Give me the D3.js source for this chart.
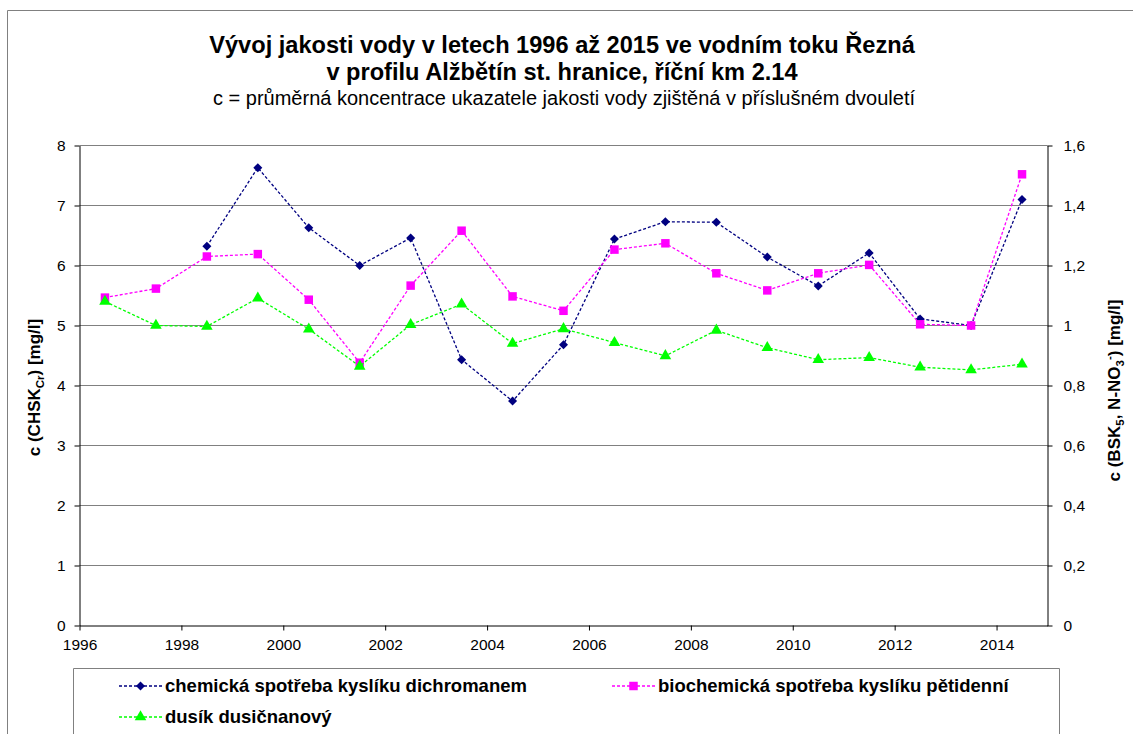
<!DOCTYPE html>
<meta charset='utf-8'>
<title>Vývoj jakosti vody – Řezná</title>
<style>
html, body {
  margin: 0;
  padding: 0;
  background: #fff;
}
svg text {
  font-family: 'Liberation Sans', Arial, sans-serif;
  fill: #000;
}
</style>
<script src='https://d3js.org/d3.v7.min.js'></script>
<body>
<svg id='chart' width='1133' height='734'></svg>
<script>
// Data
var years = [1996.5, 1997.5, 1998.5, 1999.5, 2000.5, 2001.5, 2002.5, 2003.5, 2004.5, 2005.5,
             2006.5, 2007.5, 2008.5, 2009.5, 2010.5, 2011.5, 2012.5, 2013.5, 2014.5];
// CHSK-Cr, left axis
var chsk = [null, null, 6.32, 7.63, 6.63, 6.00, 6.46, 4.43, 3.74, 4.68,
            6.44, 6.73, 6.72, 6.14, 5.66, 6.21, 5.11, 5.00, 7.10];
// BSK5, right axis
var bsk5 = [1.093, 1.123, 1.23, 1.238, 1.086, 0.876, 1.133, 1.316, 1.097, 1.049,
            1.253, 1.274, 1.174, 1.117, 1.174, 1.202, 1.004, 1.0, 1.504];
// N-NO3, right axis
var nno3 = [1.08, 1.0, 0.997, 1.091, 0.988, 0.864, 1.003, 1.071, 0.94, 0.989,
            0.943, 0.899, 0.984, 0.926, 0.886, 0.893, 0.861, 0.852, 0.871];

var xTicks = [1996, 1998, 2000, 2002, 2004, 2006, 2008, 2010, 2012, 2014];
var leftTicks = [0, 1, 2, 3, 4, 5, 6, 7, 8];
var rightTicks = [0, 0.2, 0.4, 0.6, 0.8, 1, 1.2, 1.4, 1.6];

var seriesNames = ['chemická spotřeba kyslíku dichromanem',
                   'biochemická spotřeba kyslíku pětidenní',
                   'dusík dusičnanový'];

// Colours
var navy = '#000080';
var magenta = '#ff00ff';
var green = '#00ff00';
var gridColor = '#808080';

var svg = d3.select('#chart');

// plot area (don't call it "top", window.top is read-only)
var pLeft = 79.5, pRight = 1047.5, pTop = 145.5, pBottom = 625.5;

var x = d3.scaleLinear().domain([1996, 2015]).range([pLeft, pRight]);
var yL = d3.scaleLinear().domain([0, 8]).range([pBottom, pTop]);
var yR = d3.scaleLinear().domain([0, 1.6]).range([pBottom, pTop]);

// outer chart border
svg.append('path')
  .attr('d', 'M7.5,740 V10.5 H1140')
  .attr('fill', 'none')
  .attr('stroke', gridColor)
  .attr('stroke-width', 1);

// Titles
svg.append('text')
  .attr('x', 562).attr('y', 53)
  .attr('text-anchor', 'middle')
  .style('font-size', '23.6px').style('font-weight', 'bold')
  .text('Vývoj jakosti vody v letech 1996 až 2015 ve vodním toku Řezná');
svg.append('text')
  .attr('x', 562).attr('y', 80)
  .attr('text-anchor', 'middle')
  .style('font-size', '23.6px').style('font-weight', 'bold')
  .text('v profilu Alžbětín st. hranice, říční km 2.14');
svg.append('text')
  .attr('x', 564).attr('y', 105)
  .attr('text-anchor', 'middle')
  .style('font-size', '20px')
  .text('c = průměrná koncentrace ukazatele jakosti vody zjištěná v příslušném dvouletí');

// gridlines
svg.append('g')
  .selectAll('line')
  .data(leftTicks.filter(function (d) { return d > 0; }))
  .enter().append('line')
  .attr('x1', pLeft).attr('x2', pRight)
  .attr('y1', function (d) { return yL(d); })
  .attr('y2', function (d) { return yL(d); })
  .attr('stroke', gridColor)
  .attr('stroke-width', 1);

// axes
var fmtComma = function (d) { return String(d).replace('.', ','); };

var gx = svg.append('g')
  .attr('transform', 'translate(0,' + pBottom + ')')
  .call(d3.axisBottom(x).tickValues(xTicks).tickFormat(d3.format('d')).tickSizeInner(5).tickSizeOuter(0).tickPadding(8));
var gl = svg.append('g')
  .attr('transform', 'translate(' + pLeft + ',0)')
  .call(d3.axisLeft(yL).tickValues(leftTicks).tickSizeInner(5).tickSizeOuter(0).tickPadding(9));
var gr = svg.append('g')
  .attr('transform', 'translate(' + pRight + ',0)')
  .call(d3.axisRight(yR).tickValues(rightTicks).tickFormat(fmtComma).tickSizeInner(5).tickSizeOuter(0).tickPadding(11));

[gx, gl, gr].forEach(function (g) {
  g.selectAll('text').style('font-size', '15.5px').attr('fill', '#000')
    .style('font-family', "'Liberation Sans', Arial, sans-serif");
  g.selectAll('line, path').attr('stroke', '#000');
});

// axis titles
var lt = svg.append('text')
  .attr('transform', 'translate(40,' + ((pTop + pBottom) / 2 + 2) + ') rotate(-90)')
  .attr('text-anchor', 'middle')
  .style('font-size', '17px').style('font-weight', 'bold');
lt.append('tspan').text('c (CHSK');
lt.append('tspan').attr('dy', 4).style('font-size', '11.5px').text('Cr');
lt.append('tspan').attr('dy', -4).text(') [mg/l]');

var rt = svg.append('text')
  .attr('transform', 'translate(1120,' + ((pTop + pBottom) / 2 + 5) + ') rotate(-90)')
  .attr('text-anchor', 'middle')
  .style('font-size', '17px').style('font-weight', 'bold');
rt.append('tspan').text('c (BSK');
rt.append('tspan').attr('dy', 4).style('font-size', '11.5px').text('5');
rt.append('tspan').attr('dy', -4).text(', N-NO');
rt.append('tspan').attr('dy', 4).style('font-size', '11.5px').text('3');
rt.append('tspan').attr('dy', -11).style('font-size', '11.5px').text('-');
rt.append('tspan').attr('dy', 7).text(') [mg/l]');

// series (square rotated 45deg for the diamond, like Excel's marker)
var diamond = d3.symbolDiamond2 || d3.symbolDiamond;
var series = [
  { name: seriesNames[0], values: chsk, y: yL, color: navy, symbol: diamond, size: 52 },
  { name: seriesNames[1], values: bsk5, y: yR, color: magenta, symbol: d3.symbolSquare, size: 72 },
  { name: seriesNames[2], values: nno3, y: yR, color: green, symbol: d3.symbolTriangle, size: 58 }
];

series.forEach(function (s) {
  var pts = years.map(function (yr, i) { return { x: yr, v: s.values[i] }; })
    .filter(function (d) { return d.v !== null; });
  var line = d3.line()
    .x(function (d) { return x(d.x); })
    .y(function (d) { return s.y(d.v); });
  svg.append('path')
    .datum(pts)
    .attr('d', line)
    .attr('fill', 'none')
    .attr('stroke', s.color)
    .attr('stroke-width', 1.3)
    .attr('stroke-dasharray', '3,2');
  svg.append('g')
    .selectAll('path')
    .data(pts)
    .enter().append('path')
    .attr('d', d3.symbol().type(s.symbol).size(s.size))
    .attr('transform', function (d) { return 'translate(' + x(d.x) + ',' + s.y(d.v) + ')'; })
    .attr('fill', s.color);
});

// legend
svg.append('path')
  .attr('d', 'M73.5,740 V668.5 H1059.5 V740')
  .attr('fill', 'none')
  .attr('stroke', gridColor)
  .attr('stroke-width', 1);

var legendPos = [[119, 686], [612, 686], [119, 717]];
series.forEach(function (s, i) {
  var g = svg.append('g')
    .attr('transform', 'translate(' + legendPos[i][0] + ',' + legendPos[i][1] + ')');
  g.append('line')
    .attr('x1', 0).attr('x2', 43)
    .attr('stroke', s.color)
    .attr('stroke-width', 1.3)
    .attr('stroke-dasharray', '3,2');
  g.append('path')
    .attr('d', d3.symbol().type(s.symbol).size(s.size))
    .attr('transform', 'translate(21.5,0)')
    .attr('fill', s.color);
  g.append('text')
    .attr('x', 46).attr('y', 6)
    .style('font-size', '18.5px').style('font-weight', 'bold')
    .text(s.name);
});
</script>
</body>
